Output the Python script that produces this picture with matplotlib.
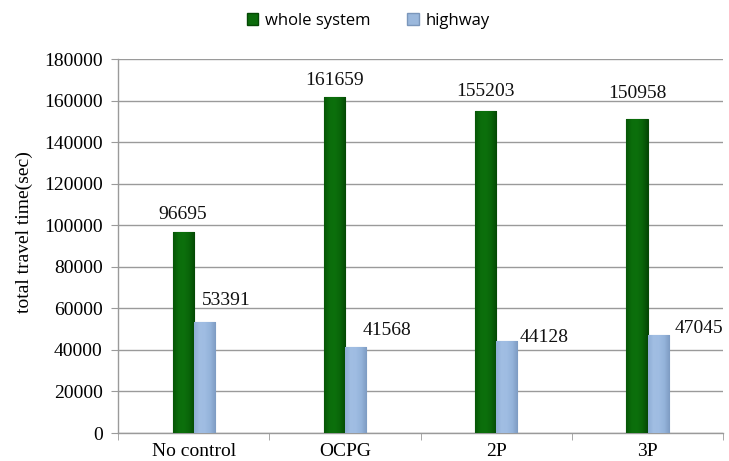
import matplotlib
matplotlib.use("Agg")
import matplotlib.pyplot as plt
import numpy as np
from matplotlib.patches import Patch
from matplotlib.colors import LinearSegmentedColormap

# Data
categories = ["No control", "OCPG", "2P", "3P"]
whole_system = [96695, 161659, 155203, 150958]
highway = [53391, 41568, 44128, 47045]
series_names = ["whole system", "highway"]
y_ticks = [0, 20000, 40000, 60000, 80000, 100000, 120000, 140000, 160000, 180000]

# Label placement (pixel offsets from the top-centre of each bar)
green_offsets = [(0, 18), (0, 17), (0, 19), (0, 26)]
blue_offsets = [(22, 22), (31, 16), (37, 4), (41, 7)]

green = "#0b6b0b"
green_edge = "#054805"
blue = "#9bb8dc"
blue_edge = "#7b97bb"
grid_col = "#9a9a9a"

green_cmap = LinearSegmentedColormap.from_list(
    "g", ["#065606", "#0b6d0b", "#0c700c", "#096509", "#044804"])
blue_cmap = LinearSegmentedColormap.from_list(
    "b", ["#8eaed6", "#a1bee3", "#9fbce2", "#94b3da", "#7e9cc3"])

fig = plt.figure(figsize=(7.29, 4.61), dpi=100)
ax = fig.add_axes([0.162, 0.0607, 0.830, 0.811])

x = np.arange(len(categories))
w = 0.14
b1 = ax.bar(x - w / 2, whole_system, w, color=green, edgecolor=green_edge,
            linewidth=0.8, zorder=3)
b2 = ax.bar(x + w / 2, highway, w, color=blue, edgecolor=blue_edge,
            linewidth=0.8, zorder=3)

# Horizontal shading inside each bar
grad = np.linspace(0, 1, 64).reshape(1, -1)
for bars, cmap in ((b1, green_cmap), (b2, blue_cmap)):
    for bar in bars:
        x0, y0 = bar.get_x(), bar.get_y()
        im = ax.imshow(grad, cmap=cmap, aspect="auto", interpolation="bilinear",
                       extent=(x0, x0 + bar.get_width(), y0, y0 + bar.get_height()),
                       zorder=3.5)
        im.set_clip_path(bar)

serif = "Liberation Serif"
for bars, vals, offs in ((b1, whole_system, green_offsets),
                         (b2, highway, blue_offsets)):
    for bar, v, (dx, dy) in zip(bars, vals, offs):
        ax.annotate(f"{v}", (bar.get_x() + bar.get_width() / 2, v),
                    xytext=(dx, dy), textcoords="offset pixels",
                    ha="center", va="center", fontsize=14, family=serif,
                    color="#111111", zorder=5)

ax.set_xlim(-0.5, len(categories) - 0.5)
ax.set_ylim(0, 180000)
ax.set_yticks(y_ticks)
ax.set_yticklabels([str(t) for t in y_ticks], family=serif, fontsize=14)
ax.set_xticks(x)
ax.set_xticklabels(categories, family=serif, fontsize=14)
ax.tick_params(axis="x", which="major", length=0, pad=7)
ax.set_xticks(np.arange(-0.5, len(categories), 1.0), minor=True)
ax.tick_params(axis="x", which="minor", length=5, color=grid_col, direction="out")
ax.tick_params(axis="y", length=5, color=grid_col, direction="out", pad=6)

ax.yaxis.grid(True, color=grid_col, linewidth=1.0, zorder=0)
ax.set_axisbelow(True)
for s in ("top", "right"):
    ax.spines[s].set_visible(False)
for s in ("left", "bottom"):
    ax.spines[s].set_color(grid_col)
    ax.spines[s].set_linewidth(1.0)

ax.set_ylabel("total travel time(sec)", family=serif, fontsize=14)
ax.yaxis.set_label_coords(-0.140, 0.537)

handles = [Patch(facecolor=green, edgecolor=green_edge),
           Patch(facecolor=blue, edgecolor=blue_edge)]
fig.legend(handles, series_names, loc="center", bbox_to_anchor=(0.505, 0.955),
           ncol=2, frameon=False, prop={"family": "Open Sans", "size": 12},
           handlelength=0.7, handleheight=0.7, handletextpad=0.4,
           columnspacing=2.2)

fig.savefig("out.png", dpi=100)
